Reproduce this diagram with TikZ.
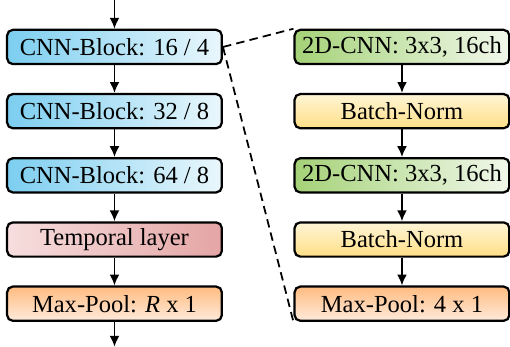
\documentclass[tikz,border=0pt]{standalone}
\usepackage{fontspec}
\setmainfont{Liberation Serif}
\usetikzlibrary{positioning, arrows.meta}

\definecolor{cnnblue}{HTML}{7CCEF0}
\definecolor{cnnpale}{HTML}{EAF7FC}
\definecolor{temppale}{HTML}{F7DEDE}
\definecolor{tempred}{HTML}{E4A5A5}
\definecolor{poolorange}{HTML}{FFBC80}
\definecolor{poolpale}{HTML}{FFEADB}
\definecolor{normpale}{HTML}{FFF5D6}
\definecolor{normyellow}{HTML}{FFDF86}
\definecolor{convgreen}{HTML}{A5D278}
\definecolor{convpale}{HTML}{F1F8EB}

\tikzset{
  block/.style={draw, line width=0.95pt, rounded corners=2.4pt,
    minimum width=3.2cm, minimum height=0.51cm, inner sep=0pt,
    font=\fontsize{10.4}{12}\selectfont},
  cnnblock/.style={block, left color=cnnblue, right color=cnnpale},
  tempblock/.style={block, left color=temppale, right color=tempred},
  poolblock/.style={block, top color=poolorange, bottom color=poolpale},
  convblock/.style={block, left color=convgreen, right color=convpale},
  normblock/.style={block, top color=normpale, bottom color=normyellow},
  flow/.style={-{Latex[length=4.6pt,width=4.2pt]}, line width=0.8pt},
  zoomline/.style={line width=0.75pt, dash pattern=on 3.6pt off 2.2pt}
}

\begin{document}
\begin{tikzpicture}[node distance=0.413cm]
  \useasboundingbox (0,0) rectangle (7.6,-5.17);
  %reseau principal
  \node[cnnblock] (cnna) at (1.706,-0.70) {CNN-Block: 16 / 4};
  \node[cnnblock, below=of cnna] (cnnb) {CNN-Block: 32 / 8};
  \node[cnnblock, below=of cnnb] (cnnc) {CNN-Block: 64 / 8};
  \node[tempblock, below=of cnnc] (temp) {Temporal layer};
  \node[poolblock, below=of temp] (pool) {Max-Pool: \textit{R} x 1};
  \coordinate[above=0.447cm of cnna.north] (input);
  \coordinate[below=0.37cm of pool.south] (output);
  \draw[flow] (input) -- (cnna);
  \draw[flow] (cnna) -- (cnnb);
  \draw[flow] (cnnb) -- (cnnc);
  \draw[flow] (cnnc) -- (temp);
  \draw[flow] (temp) -- (pool);
  \draw[flow] (pool) -- (output);
  %detail du bloc
  \node[convblock] (conva) at (5.99,-0.70) {2D-CNN: 3x3, 16ch};
  \node[normblock, below=of conva] (norma) {Batch-Norm};
  \node[convblock, below=of norma] (convb) {2D-CNN: 3x3, 16ch};
  \node[normblock, below=of convb] (normb) {Batch-Norm};
  \node[poolblock, below=of normb] (poolb) {Max-Pool: 4 x 1};
  \draw[flow] (conva) -- (norma);
  \draw[flow] (norma) -- (convb);
  \draw[flow] (convb) -- (normb);
  \draw[flow] (normb) -- (poolb);
  %zoom
  \draw[zoomline] (cnna.east) -- (conva.north west);
  \draw[zoomline] (cnna.east) -- (poolb.south west);
\end{tikzpicture}
\end{document}
